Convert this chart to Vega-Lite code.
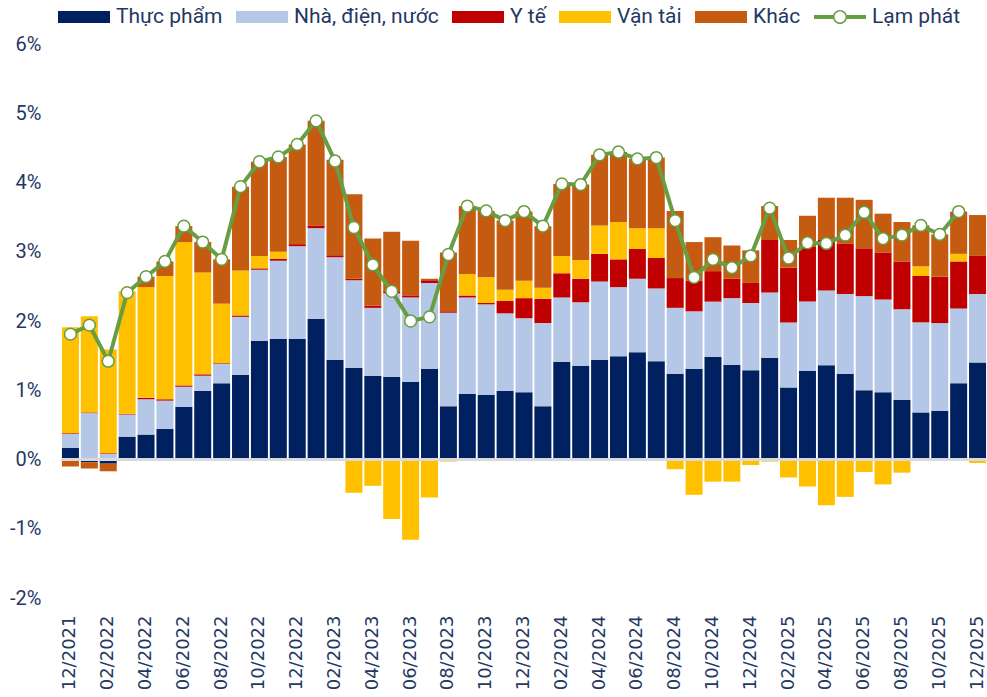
{
  "$schema": "https://vega.github.io/schema/vega-lite/v6.json",
  "width": 926,
  "height": 554,
  "autosize": "none",
  "padding": {"left": 61, "top": 44, "right": 0, "bottom": 99},
  "background": "white",
  "config": {"view": {"stroke": null}, "font": "Roboto"},
  "data": {"values": [
    {"m": "12/2021", "food": 0.17, "housing": 0.20, "health": 0.01, "transport": 1.53, "other": -0.10, "cpi": 1.81},
    {"m": "01/2022", "food": -0.04, "housing": 0.67, "health": 0.01, "transport": 1.39, "other": -0.09, "cpi": 1.94},
    {"m": "02/2022", "food": -0.06, "housing": 0.08, "health": 0.01, "transport": 1.50, "other": -0.11, "cpi": 1.42},
    {"m": "03/2022", "food": 0.33, "housing": 0.32, "health": 0.01, "transport": 1.77, "other": -0.02, "cpi": 2.41},
    {"m": "04/2022", "food": 0.36, "housing": 0.51, "health": 0.02, "transport": 1.60, "other": 0.15, "cpi": 2.64},
    {"m": "05/2022", "food": 0.44, "housing": 0.41, "health": 0.02, "transport": 1.78, "other": 0.21, "cpi": 2.86},
    {"m": "06/2022", "food": 0.76, "housing": 0.29, "health": 0.02, "transport": 2.07, "other": 0.23, "cpi": 3.37},
    {"m": "07/2022", "food": 0.99, "housing": 0.22, "health": 0.02, "transport": 1.47, "other": 0.44, "cpi": 3.14},
    {"m": "08/2022", "food": 1.10, "housing": 0.28, "health": 0.01, "transport": 0.86, "other": 0.64, "cpi": 2.89},
    {"m": "09/2022", "food": 1.22, "housing": 0.84, "health": 0.02, "transport": 0.65, "other": 1.21, "cpi": 3.94},
    {"m": "10/2022", "food": 1.71, "housing": 1.03, "health": 0.02, "transport": 0.18, "other": 1.36, "cpi": 4.30},
    {"m": "11/2022", "food": 1.74, "housing": 1.13, "health": 0.03, "transport": 0.10, "other": 1.37, "cpi": 4.37},
    {"m": "12/2022", "food": 1.74, "housing": 1.34, "health": 0.03, "transport": 0.00, "other": 1.44, "cpi": 4.55},
    {"m": "01/2023", "food": 2.03, "housing": 1.31, "health": 0.04, "transport": 0.00, "other": 1.51, "cpi": 4.89},
    {"m": "02/2023", "food": 1.44, "housing": 1.48, "health": 0.03, "transport": -0.02, "other": 1.38, "cpi": 4.31},
    {"m": "03/2023", "food": 1.32, "housing": 1.27, "health": 0.02, "transport": -0.48, "other": 1.22, "cpi": 3.35},
    {"m": "04/2023", "food": 1.21, "housing": 0.98, "health": 0.03, "transport": -0.38, "other": 0.97, "cpi": 2.81},
    {"m": "05/2023", "food": 1.19, "housing": 1.21, "health": 0.02, "transport": -0.86, "other": 0.87, "cpi": 2.43},
    {"m": "06/2023", "food": 1.12, "housing": 1.22, "health": 0.03, "transport": -1.16, "other": 0.79, "cpi": 2.00},
    {"m": "07/2023", "food": 1.31, "housing": 1.24, "health": 0.04, "transport": -0.55, "other": 0.02, "cpi": 2.06},
    {"m": "08/2023", "food": 0.77, "housing": 1.35, "health": 0.02, "transport": -0.03, "other": 0.85, "cpi": 2.96},
    {"m": "09/2023", "food": 0.95, "housing": 1.39, "health": 0.03, "transport": 0.31, "other": 0.98, "cpi": 3.66},
    {"m": "10/2023", "food": 0.93, "housing": 1.31, "health": 0.02, "transport": 0.37, "other": 0.96, "cpi": 3.59},
    {"m": "11/2023", "food": 0.99, "housing": 1.12, "health": 0.18, "transport": 0.16, "other": 1.00, "cpi": 3.45},
    {"m": "12/2023", "food": 0.97, "housing": 1.07, "health": 0.29, "transport": 0.25, "other": 1.00, "cpi": 3.58},
    {"m": "01/2024", "food": 0.77, "housing": 1.20, "health": 0.35, "transport": 0.16, "other": 0.89, "cpi": 3.37},
    {"m": "02/2024", "food": 1.41, "housing": 0.93, "health": 0.35, "transport": 0.25, "other": 1.04, "cpi": 3.98},
    {"m": "03/2024", "food": 1.35, "housing": 0.92, "health": 0.34, "transport": 0.27, "other": 1.09, "cpi": 3.97},
    {"m": "04/2024", "food": 1.44, "housing": 1.13, "health": 0.40, "transport": 0.41, "other": 1.02, "cpi": 4.40},
    {"m": "05/2024", "food": 1.49, "housing": 1.00, "health": 0.40, "transport": 0.54, "other": 1.01, "cpi": 4.44},
    {"m": "06/2024", "food": 1.55, "housing": 1.06, "health": 0.43, "transport": 0.30, "other": 1.00, "cpi": 4.34},
    {"m": "07/2024", "food": 1.42, "housing": 1.05, "health": 0.44, "transport": 0.43, "other": 1.02, "cpi": 4.36},
    {"m": "08/2024", "food": 1.24, "housing": 0.95, "health": 0.43, "transport": -0.14, "other": 0.97, "cpi": 3.45},
    {"m": "09/2024", "food": 1.31, "housing": 0.83, "health": 0.44, "transport": -0.51, "other": 0.56, "cpi": 2.63},
    {"m": "10/2024", "food": 1.48, "housing": 0.80, "health": 0.44, "transport": -0.32, "other": 0.49, "cpi": 2.89},
    {"m": "11/2024", "food": 1.37, "housing": 0.96, "health": 0.28, "transport": -0.32, "other": 0.48, "cpi": 2.77},
    {"m": "12/2024", "food": 1.29, "housing": 0.97, "health": 0.29, "transport": -0.08, "other": 0.47, "cpi": 2.94},
    {"m": "01/2025", "food": 1.47, "housing": 0.94, "health": 0.76, "transport": -0.03, "other": 0.49, "cpi": 3.63},
    {"m": "02/2025", "food": 1.04, "housing": 0.94, "health": 0.79, "transport": -0.26, "other": 0.40, "cpi": 2.91},
    {"m": "03/2025", "food": 1.28, "housing": 1.00, "health": 0.79, "transport": -0.39, "other": 0.45, "cpi": 3.13},
    {"m": "04/2025", "food": 1.36, "housing": 1.08, "health": 0.73, "transport": -0.66, "other": 0.61, "cpi": 3.12},
    {"m": "05/2025", "food": 1.24, "housing": 1.15, "health": 0.73, "transport": -0.54, "other": 0.66, "cpi": 3.24},
    {"m": "06/2025", "food": 1.00, "housing": 1.36, "health": 0.69, "transport": -0.18, "other": 0.70, "cpi": 3.57},
    {"m": "07/2025", "food": 0.97, "housing": 1.34, "health": 0.68, "transport": -0.36, "other": 0.56, "cpi": 3.19},
    {"m": "08/2025", "food": 0.86, "housing": 1.31, "health": 0.69, "transport": -0.19, "other": 0.57, "cpi": 3.24},
    {"m": "09/2025", "food": 0.68, "housing": 1.30, "health": 0.67, "transport": 0.14, "other": 0.59, "cpi": 3.38},
    {"m": "10/2025", "food": 0.70, "housing": 1.27, "health": 0.67, "transport": 0.00, "other": 0.61, "cpi": 3.25},
    {"m": "11/2025", "food": 1.10, "housing": 1.08, "health": 0.68, "transport": 0.11, "other": 0.61, "cpi": 3.58},
    {"m": "12/2025", "food": 1.40, "housing": 0.99, "health": 0.55, "transport": -0.05, "other": 0.59, "cpi": null}
  ]},
  "layer": [
    {
      "transform": [
        {"fold": ["food", "housing", "health", "transport", "other"], "as": ["key", "v"]},
        {"lookup": "key", "from": {"data": {"values": [
          {"key": "food", "rank": 1},
          {"key": "housing", "rank": 2},
          {"key": "health", "rank": 3},
          {"key": "transport", "rank": 4},
          {"key": "other", "rank": 5}
        ]}, "key": "key", "fields": ["rank"]}}
      ],
      "mark": {"type": "bar"},
      "encoding": {
        "x": {
          "field": "m", "type": "ordinal", "sort": null,
          "scale": {"paddingInner": 0.1, "paddingOuter": 0.05},
          "axis": {
            "title": null, "labelAngle": 270, "labelOverlap": false,
            "labelExpr": "toNumber(slice(datum.label, 0, 2)) % 2 === 0 ? datum.label : ''",
            "ticks": false, "domain": false, "labelPadding": 17,
            "labelFont": "DejaVu Sans", "labelFontSize": 18, "labelColor": "#1F3864"
          }
        },
        "y": {
          "field": "v", "type": "quantitative", "stack": "zero", "title": null,
          "scale": {"domain": [-2, 6], "nice": false},
          "axis": {
            "values": [-2, -1, 0, 1, 2, 3, 4, 5, 6], "labelExpr": "datum.value + '%'",
            "grid": false, "domain": false, "ticks": false, "labelPadding": 20,
            "labelFont": "Roboto", "labelFontSize": 20, "labelColor": "#1F3864"
          }
        },
        "order": {"field": "rank", "type": "quantitative", "sort": "ascending"},
        "color": {
          "field": "key", "type": "nominal",
          "scale": {
            "domain": ["food", "housing", "health", "transport", "other", "cpi"],
            "range": ["#002060", "#B4C7E7", "#C00000", "#FFC000", "#C55A11", "#689E42"]
          },
          "legend": {
            "orient": "none", "legendX": -3, "legendY": -53, "direction": "horizontal",
            "title": null, "padding": 0,
            "labelExpr": "{'food': 'Thực phẩm', 'housing': 'Nhà, điện, nước', 'health': 'Y tế', 'transport': 'Vận tải', 'other': 'Khác', 'cpi': 'Lạm phát'}[datum.label]",
            "labelFont": "Roboto", "labelFontSize": 21, "labelColor": "#1F3864", "labelLimit": 300,
            "symbolSize": 2704, "labelOffset": 6, "columnPadding": 13,
            "encode": {"symbols": {"update": {
              "shape": {"signal": "datum.value === 'cpi' ? 'M-1,-0.077H-0.27V0.077H-1Z M0.27,-0.077H1V0.077H0.27Z M0.27,0A0.27,0.27,0,1,1,-0.27,0A0.27,0.27,0,1,1,0.27,0Z M0.21,0A0.21,0.21,0,1,0,-0.21,0A0.21,0.21,0,1,0,0.21,0Z' : 'M-1,-0.23H1V0.23H-1Z'"},
              "strokeWidth": {"value": 0},
              "opacity": {"value": 1}
            }}}
          }
        }
      }
    },
    {
      "mark": {"type": "rule", "color": "#D9D9D9", "strokeWidth": 2},
      "encoding": {"y": {"datum": 0}}
    },
    {
      "mark": {"type": "line", "color": "#689E42", "strokeWidth": 4},
      "encoding": {
        "x": {"field": "m", "type": "ordinal", "sort": null},
        "y": {"field": "cpi", "type": "quantitative", "title": null}
      }
    },
    {
      "mark": {"type": "point", "filled": true, "fill": "white", "stroke": "#689E42", "strokeWidth": 1.5, "size": 140, "opacity": 1},
      "encoding": {
        "x": {"field": "m", "type": "ordinal", "sort": null},
        "y": {"field": "cpi", "type": "quantitative", "title": null}
      }
    }
  ]
}
